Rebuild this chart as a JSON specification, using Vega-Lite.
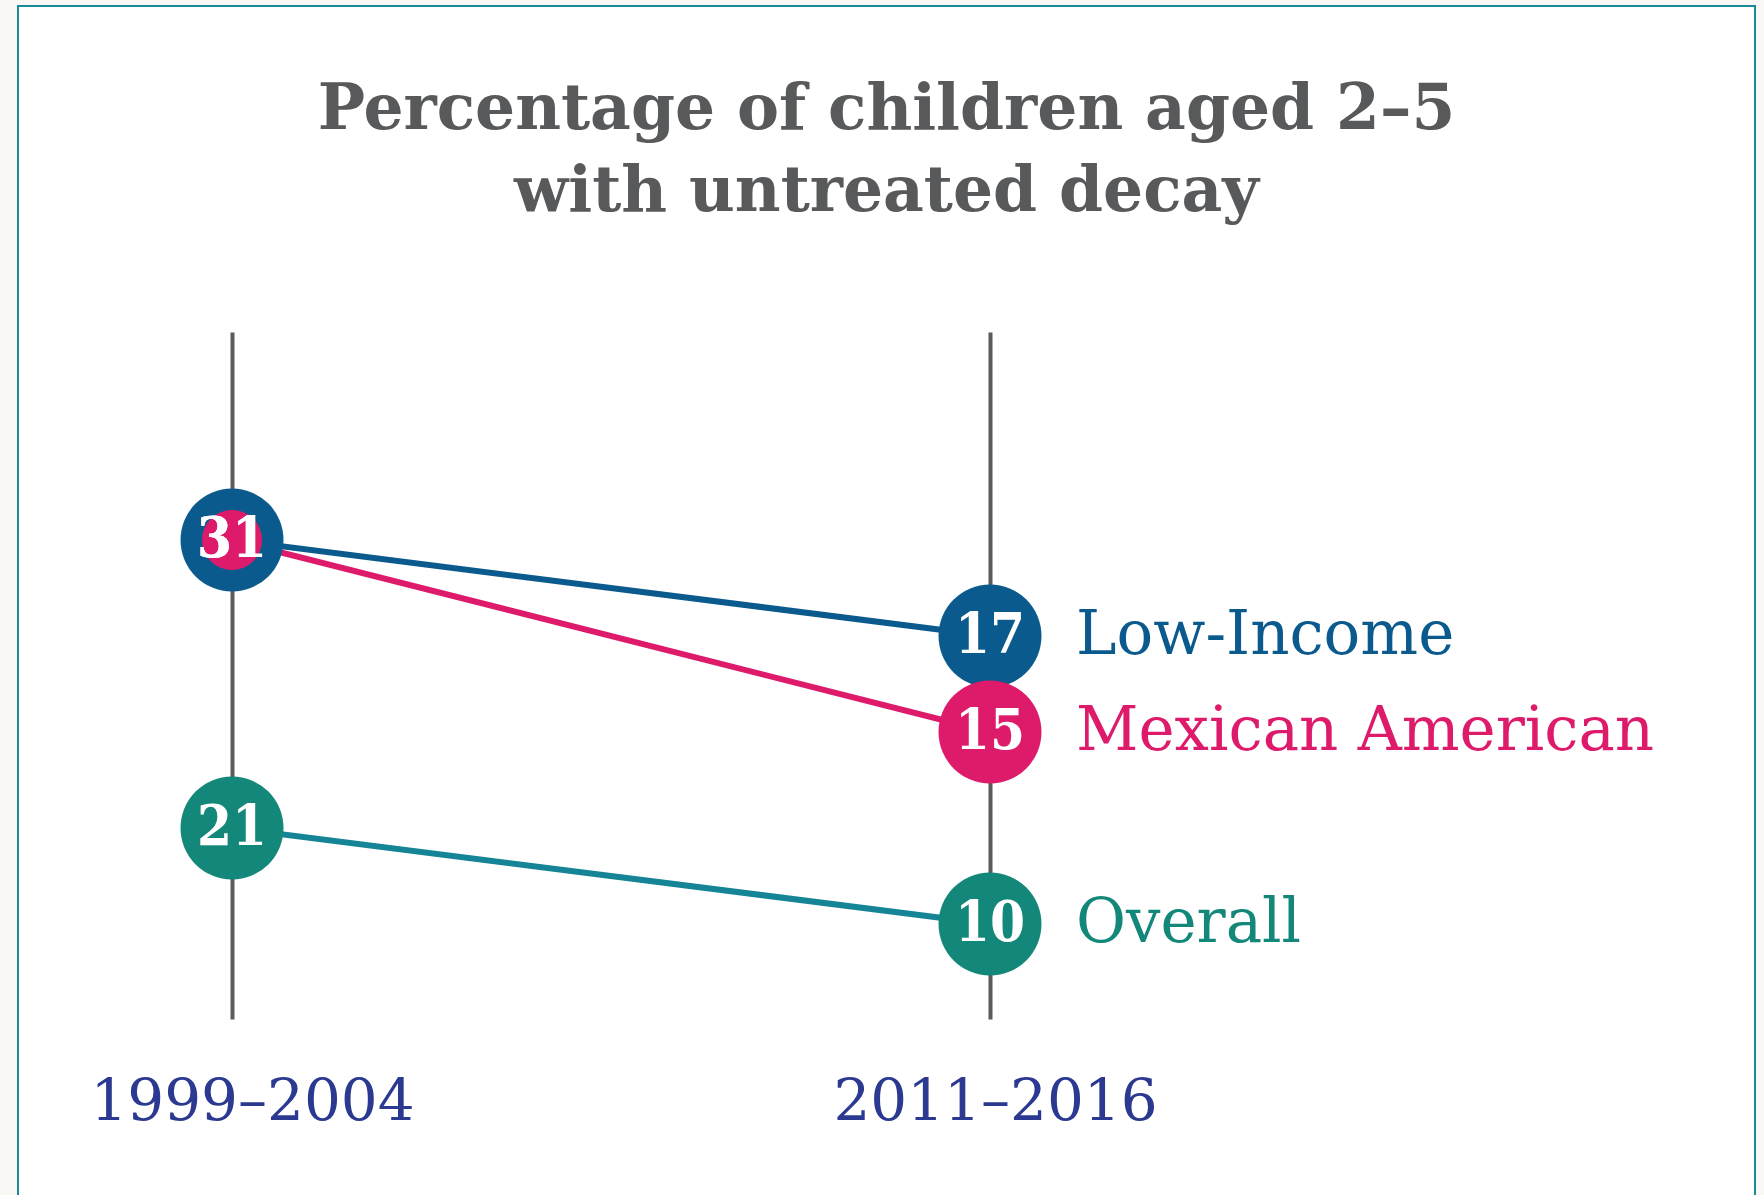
{
  "$schema": "https://vega.github.io/schema/vega-lite/v6.json",
  "width": 1737,
  "height": 1192,
  "autosize": {"type": "none"},
  "padding": {"left": 18, "top": 6, "right": 9, "bottom": 0},
  "background": "#faf8f5",
  "title": {
    "text": ["Percentage of children aged 2–5", "with untreated decay"],
    "orient": "top",
    "anchor": "middle",
    "frame": "group",
    "offset": -124,
    "dy": 144,
    "baseline": "alphabetic",
    "font": "DejaVu Serif",
    "fontSize": 63,
    "fontWeight": "bold",
    "lineHeight": 82,
    "color": "#58595b"
  },
  "data": {
    "values": [
      {"group": "Low-Income", "period": "1999–2004", "value": 31},
      {"group": "Mexican American", "period": "1999–2004", "value": 31},
      {"group": "Overall", "period": "1999–2004", "value": 21},
      {"group": "Low-Income", "period": "2011–2016", "value": 17},
      {"group": "Mexican American", "period": "2011–2016", "value": 15},
      {"group": "Overall", "period": "2011–2016", "value": 10}
    ]
  },
  "encoding": {
    "x": {
      "field": "period",
      "type": "ordinal",
      "scale": {"type": "point", "domain": ["1999–2004", "2011–2016"], "padding": 0.6458, "align": 0.2186},
      "axis": {
        "title": null,
        "orient": "bottom",
        "offset": -179,
        "domain": false,
        "grid": false,
        "ticks": true,
        "tickSize": -687,
        "tickWidth": 4,
        "tickColor": "#5b5b5b",
        "labelAngle": 0,
        "labelLimit": 0,
        "labelFont": "DejaVu Serif",
        "labelFontSize": 58,
        "labelColor": "#2b3990",
        "labelBaseline": "alphabetic",
        "labelPadding": 787,
        "labelOffset": {"condition": {"test": "datum.value === '1999–2004'", "value": 20}, "value": 5}
      }
    },
    "y": {
      "field": "value",
      "type": "ordinal",
      "scale": {"type": "point", "domain": [31, 17, 15, 21, 10], "range": [534, 918], "padding": 0},
      "axis": null
    }
  },
  "layer": [
    {
      "mark": {"type": "line", "strokeWidth": 6},
      "encoding": {
        "stroke": {
          "field": "group",
          "type": "nominal",
          "scale": {"domain": ["Low-Income", "Mexican American", "Overall"], "range": ["#0b5a8e", "#de1a6b", "#148496"]},
          "legend": null
        }
      }
    },
    {
      "mark": {"type": "circle", "opacity": 1},
      "encoding": {
        "fill": {
          "field": "group",
          "type": "nominal",
          "scale": {"domain": ["Low-Income", "Mexican American", "Overall"], "range": ["#0b5a8e", "#de1a6b", "#12877a"]},
          "legend": null
        },
        "size": {
          "condition": {"test": "datum.group === 'Mexican American' && datum.period === '1999–2004'", "value": 3600},
          "value": 10600
        }
      }
    },
    {
      "mark": {
        "type": "text",
        "color": "white",
        "font": "DejaVu Serif Condensed, DejaVu Serif",
        "fontWeight": "bold",
        "fontSize": 56,
        "baseline": "middle",
        "align": "center"
      },
      "encoding": {
        "text": {"field": "value", "type": "quantitative"}
      }
    },
    {
      "transform": [{"filter": "datum.period === '2011–2016'"}],
      "mark": {
        "type": "text",
        "align": "left",
        "baseline": "middle",
        "dx": 86,
        "font": "DejaVu Serif",
        "fontSize": 61
      },
      "encoding": {
        "text": {"field": "group", "type": "nominal"},
        "color": {
          "field": "group",
          "type": "nominal",
          "scale": {"domain": ["Low-Income", "Mexican American", "Overall"], "range": ["#0b5a8e", "#de1a6b", "#12877a"]},
          "legend": null
        }
      }
    }
  ],
  "config": {
    "view": {"stroke": "#1b8a98", "strokeWidth": 2, "fill": "white"}
  }
}
